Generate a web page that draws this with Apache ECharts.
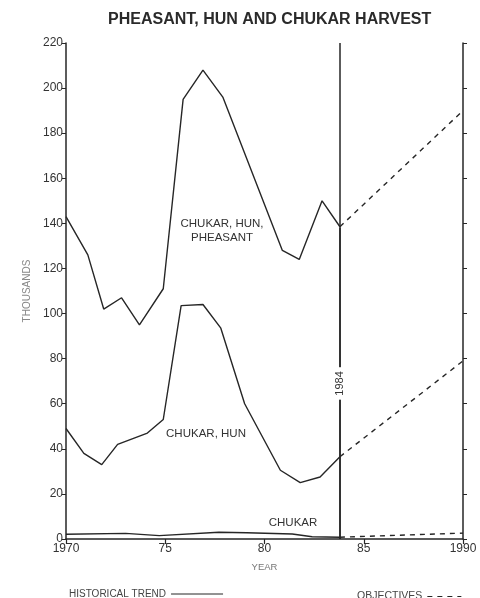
<!DOCTYPE html>
<html>
<head>
    <meta charset="utf-8">
    <script src="https://cdn.jsdelivr.net/npm/echarts@6/dist/echarts.min.js"></script>
    <style>
        body { margin: 0; background: #fff; }
    </style>
</head>
<body>
<div id="main" style="width: 480px;height:598px;"></div>
<script type="text/javascript">
    // values (thousands of birds)
    var totalYears  = [1970, 1971.1, 1971.9, 1972.8, 1973.7, 1974.9, 1975.9, 1976.9, 1977.9, 1980.9, 1981.75, 1982.9, 1983.8];
    var totalValues = [143, 126, 102, 107, 95, 111, 195, 208, 196, 128, 124, 150, 138.5];

    var hunYears  = [1970, 1970.9, 1971.8, 1972.6, 1974.1, 1974.9, 1975.8, 1976.9, 1977.8, 1979, 1980.8, 1981.8, 1982.8, 1983.8];
    var hunValues = [49, 38, 33, 42, 47, 53, 103.5, 104, 93.5, 60, 30.5, 25, 27.5, 36.5];

    var chukarYears  = [1970, 1973, 1974.7, 1977.7, 1979.1, 1981.4, 1982.4, 1983.8];
    var chukarValues = [2.1, 2.5, 1.5, 3, 2.8, 2.2, 1, 0.8];

    // objectives 1984 -> 1990
    var objYears = [1983.8, 1990];
    var totalObjective  = [138.5, 190];
    var hunObjective    = [36.5, 79];
    var chukarObjective = [0.8, 2.6];

    var yearLine = 1983.8;   // the "1984" marker line

    function pairs(xs, ys) {
        var out = [];
        for (var i = 0; i < xs.length; i++) out.push([xs[i], ys[i]]);
        return out;
    }

    var ink = '#262626';
    var font = 'Liberation Sans, Arial, sans-serif';

    var myChart = echarts.init(document.getElementById('main'));

    function histSeries(data, extra) {
        var s = {
            name: 'HISTORICAL TREND',
            type: 'line',
            data: data,
            symbol: 'none',
            lineStyle: {color: ink, width: 1.4},
            itemStyle: {color: ink},
            z: 3
        };
        if (extra) for (var k in extra) s[k] = extra[k];
        return s;
    }
    function objSeries(data) {
        return {
            name: 'OBJECTIVES',
            type: 'line',
            data: data,
            symbol: 'none',
            lineStyle: {color: ink, width: 1.4, type: [5, 5]},
            itemStyle: {color: ink},
            z: 3
        };
    }

    var option = {
        animation: false,
        title: {
            text: 'PHEASANT, HUN AND CHUKAR HARVEST',
            left: 103,
            top: 7,
            textStyle: {fontFamily: font, fontSize: 16, fontWeight: 'bold', color: '#2a2a2a'}
        },
        legend: [
            {
                data: ['HISTORICAL TREND'],
                left: 64, top: 584,
                align: 'right',
                itemWidth: 52, itemHeight: 8,
                selectedMode: false,
                itemStyle: {opacity: 0},
                lineStyle: {width: 1},
                textStyle: {fontFamily: font, fontSize: 10, color: '#444'}
            },
            {
                data: ['OBJECTIVES'],
                left: 352, top: 586,
                align: 'right',
                itemWidth: 34, itemHeight: 8,
                selectedMode: false,
                itemStyle: {opacity: 0},
                lineStyle: {width: 1},
                textStyle: {fontFamily: font, fontSize: 10.5, color: '#444'}
            }
        ],
        grid: {left: 66, right: 17, top: 43, bottom: 59},
        xAxis: {
            type: 'value',
            min: 1970, max: 1990, interval: 5,
            name: 'YEAR',
            nameLocation: 'middle',
            nameGap: 23,
            nameTextStyle: {fontFamily: font, fontSize: 9.5, color: '#777'},
            axisLine: {lineStyle: {color: ink, width: 1.5}},
            axisTick: {length: 5, lineStyle: {color: ink, width: 1.2}},
            axisLabel: {
                fontFamily: font, fontSize: 12, color: '#333', margin: 4,
                formatter: function (v) {
                    return (v === 1970 || v === 1990) ? String(v) : String(v).slice(2);
                }
            },
            splitLine: {show: false}
        },
        yAxis: [
            {
                type: 'value',
                min: 0, max: 220, interval: 20,
                name: 'THOUSANDS',
                nameLocation: 'middle',
                nameGap: 33,
                nameRotate: 90,
                nameTextStyle: {fontFamily: font, fontSize: 10, color: '#888'},
                axisLine: {show: true, lineStyle: {color: ink, width: 1.5}},
                axisTick: {show: true, length: 4, lineStyle: {color: ink}},
                axisLabel: {fontFamily: font, fontSize: 12, color: '#333', margin: 3},
                splitLine: {show: false}
            },
            {
                type: 'value',
                position: 'right',
                min: 0, max: 220, interval: 20,
                axisLine: {show: true, lineStyle: {color: ink, width: 1.5}},
                axisTick: {show: true, length: 4, lineStyle: {color: ink}},
                axisLabel: {show: false},
                splitLine: {show: false}
            }
        ],
        series: [
            histSeries(pairs(totalYears, totalValues), {
                markLine: {
                    silent: true,
                    symbol: 'none',
                    lineStyle: {color: ink, width: 1.5, type: 'solid'},
                    label: {show: false},
                    data: [
                        [{coord: [yearLine, 0]}, {coord: [yearLine, 220]}],
                        [{
                            coord: [yearLine, 0],
                            label: {
                                show: true, position: 'insideMiddle', formatter: '1984',
                                fontFamily: font, fontSize: 11, color: '#333',
                                backgroundColor: '#fff', padding: [1, 4]
                            }
                        }, {coord: [yearLine, 138]}]
                    ]
                }
            }),
            histSeries(pairs(hunYears, hunValues)),
            histSeries(pairs(chukarYears, chukarValues)),
            objSeries(pairs(objYears, totalObjective)),
            objSeries(pairs(objYears, hunObjective)),
            objSeries(pairs(objYears, chukarObjective))
        ],
        graphic: [
            {
                type: 'text', x: 222, y: 217,
                style: {
                    text: 'CHUKAR, HUN,\nPHEASANT', align: 'center',
                    font: '11.5px ' + font, fill: '#333', lineHeight: 14
                }
            },
            {
                type: 'text', x: 206, y: 434,
                style: {text: 'CHUKAR, HUN', align: 'center', verticalAlign: 'middle', font: '11.5px ' + font, fill: '#333'}
            },
            {
                type: 'text', x: 293, y: 523,
                style: {text: 'CHUKAR', align: 'center', verticalAlign: 'middle', font: '11.5px ' + font, fill: '#333'}
            }
        ]
    };

    myChart.setOption(option);
</script>
</body>
</html>
